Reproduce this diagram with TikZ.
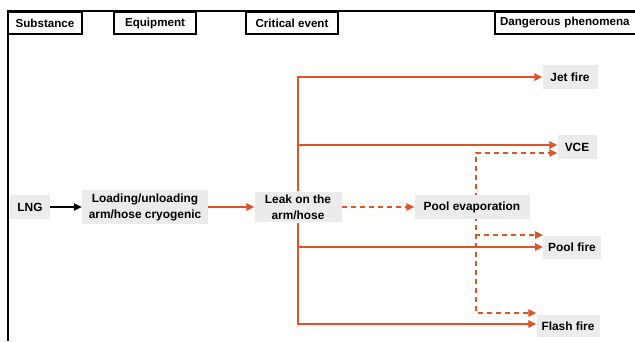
\documentclass[tikz,border=0pt]{standalone}
\usepackage{fontspec}
\setmainfont{Liberation Sans}
\usetikzlibrary{arrows.meta,backgrounds,calc}
\definecolor{leakorange}{RGB}{222,84,38}
\definecolor{boxgray}{RGB}{235,235,235}
\tikzset{
  box/.style={shape=rectangle,fill=boxgray,inner xsep=5pt,inner ysep=3pt,minimum height=24pt,align=center,
    font=\fontsize{11.9}{16}\selectfont\bfseries},
  header/.style={shape=rectangle,draw,fill=white,line width=1.1pt,minimum height=22pt,inner xsep=5pt,
    font=\fontsize{11.6}{13}\selectfont\bfseries},
  flow/.style={->,line width=1.6pt,draw=leakorange},
  maybe/.style={->,line width=1.2pt,draw=leakorange,dash pattern=on 5pt off 4pt}
}
\begin{document}
\begin{tikzpicture}[x=1pt,y=-1pt,>={Triangle[length=8pt,width=7.5pt]}]
\useasboundingbox (0,0) rectangle (635,341);
% frame and column headers
\draw [line width=1.6pt] (635,11) -- (8,11) -- (8,341);
\node(substance) [header,minimum width=74pt] at (45,23) {Substance};
\node(equipment) [header,minimum width=82pt] at (155,23) {Equipment};
\node(critical) [header,minimum width=92pt] at (292,23) {Critical event};
\node(phenomena) [header,text width=140pt,align=left] at (570,23) {Dangerous phenomena};
% chain
\node(lng) [box,minimum width=40pt] at (30,207) {LNG};
\node(arm) [box,minimum width=126pt] at (145,207) {Loading/unloading\\arm/hose cryogenic};
\node(leak) [box,minimum width=87pt] at (298,207) {Leak on the\\arm/hose};
\node(pool) [box,minimum width=115pt] at (472,207) {Pool evaporation};
% phenomena
\node(jet) [box,minimum width=55pt] at (570,77) {Jet fire};
\node(vce) [box,minimum width=39pt] at (577,147) {VCE};
\node(poolfire) [box,minimum width=55pt,minimum height=23pt] at (572,247) {Pool fire};
\node(flash) [box,minimum width=63pt,minimum height=22pt] at (568,326) {Flash fire};
\begin{scope}[on background layer]
\draw [->,line width=1.2pt] (lng) -- (arm);
\draw [flow] (arm) -- (leak);
\draw [flow] (leak) |- (jet);
\draw [flow] (leak) |- ($(vce.west)+(0,-2)$);
\draw [flow] (leak) |- (poolfire);
\draw [flow] (leak) |- ($(flash.west)+(0,-2)$);
\draw [maybe] (leak) -- (pool);
\draw [maybe] ($(pool.center)+(4,0)$) |- ($(vce.west)+(0,6)$);
\draw [maybe] ($(pool.center)+(4,0)$) |- ($(poolfire.west)+(0,-12)$);
\draw [maybe] ($(pool.center)+(4,0)$) |- ($(flash.west)+(0,-13)$);
\end{scope}
\end{tikzpicture}
\end{document}
